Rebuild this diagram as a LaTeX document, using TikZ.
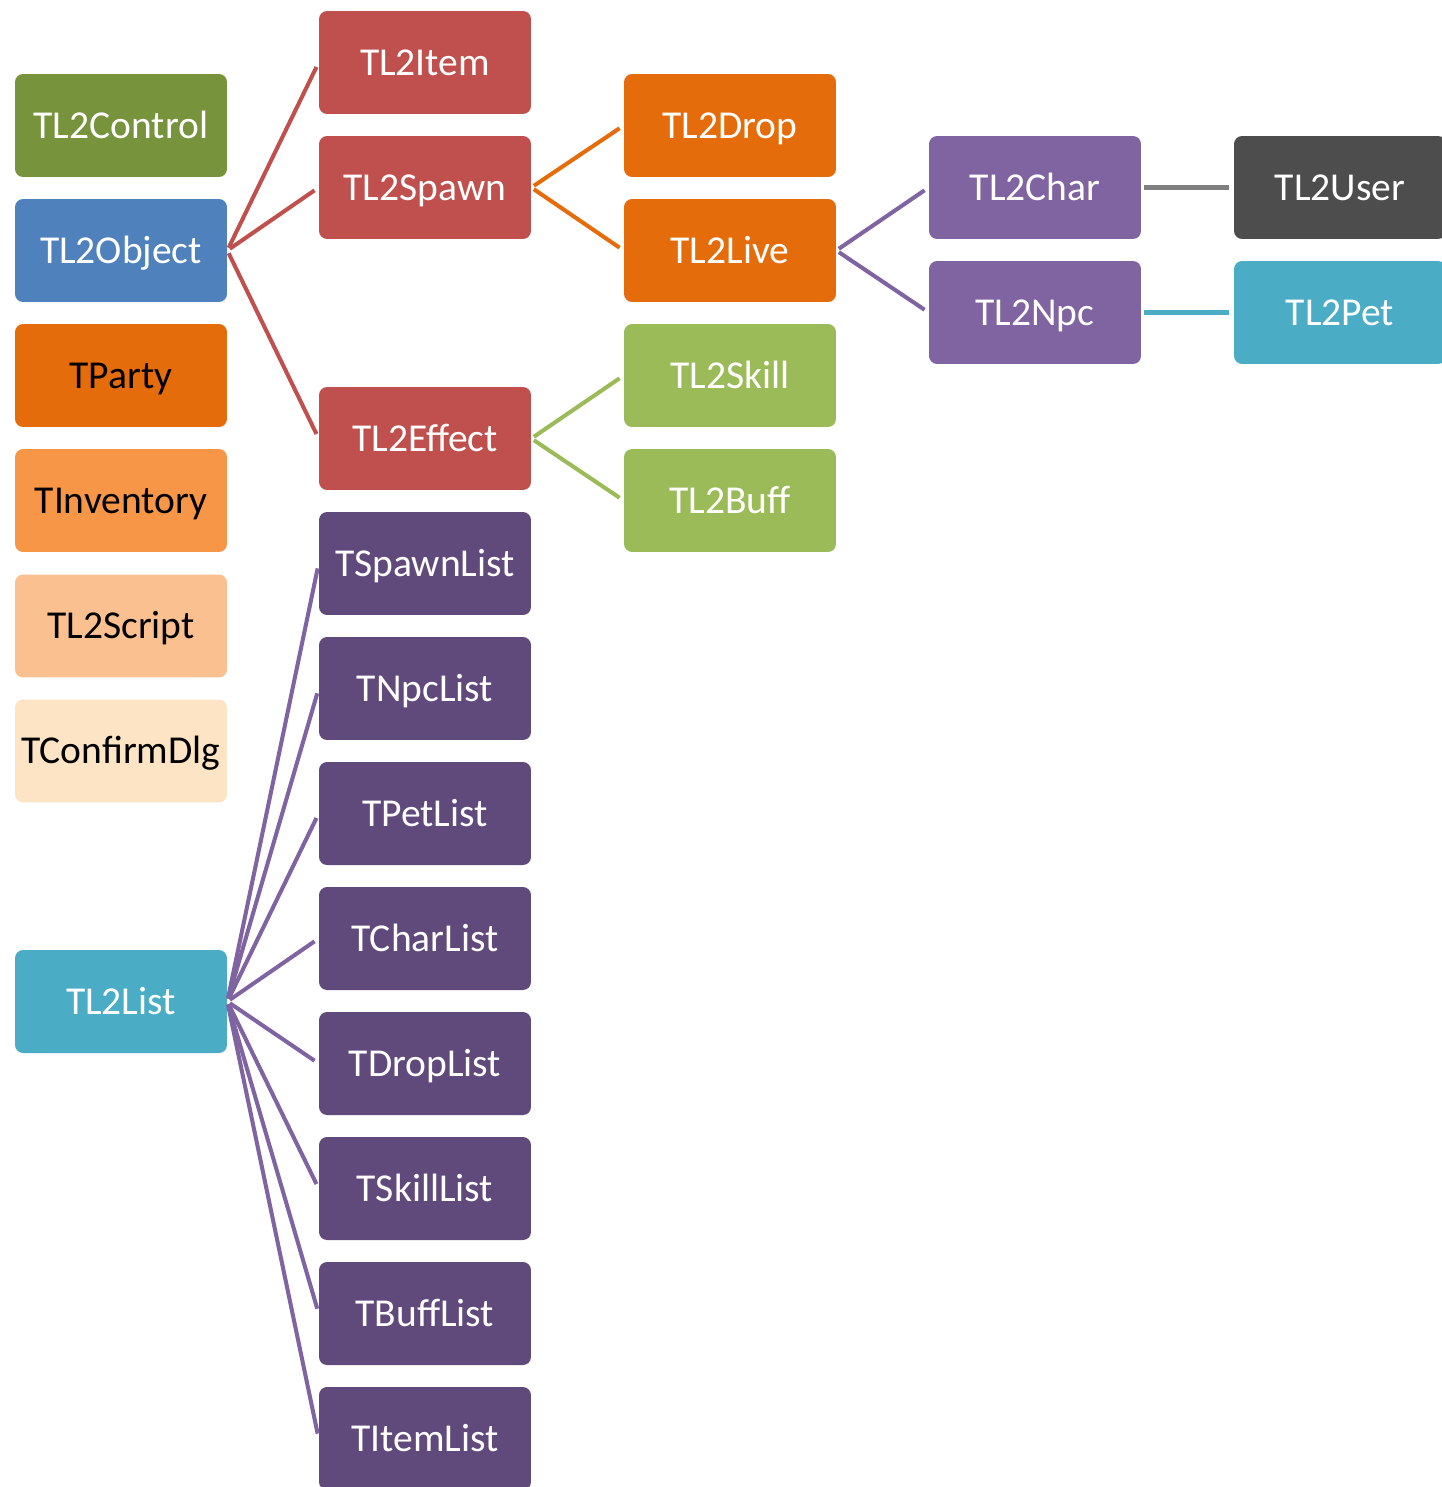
\documentclass[tikz,border=0pt]{standalone}
\usepackage{fontspec}
\setmainfont{Carlito}
\definecolor{ctrlgreen}{RGB}{119,147,60}
\definecolor{objblue}{RGB}{79,129,189}
\definecolor{darkorange}{RGB}{228,108,10}
\definecolor{lightorange}{RGB}{247,150,70}
\definecolor{peach}{RGB}{250,192,144}
\definecolor{cream}{RGB}{253,228,196}
\definecolor{tealblue}{RGB}{75,172,198}
\definecolor{brickred}{RGB}{192,80,77}
\definecolor{leafgreen}{RGB}{155,187,89}
\definecolor{midpurple}{RGB}{128,100,162}
\definecolor{deeppurple}{RGB}{96,74,123}
\definecolor{charcoal}{RGB}{77,77,77}
\usetikzlibrary{positioning}

\begin{document}
\begin{tikzpicture}[x=0.02cm, y=-0.02cm,
  cls/.style={rounded corners=0.16cm, minimum width=4.24cm, minimum height=2.06cm,
              inner sep=0pt, text height=14.5pt, text depth=0pt, text=white,
              font=\fontsize{22.5}{27}\selectfont},
  link/.style={line width=2.3pt, shorten <=0.06cm, shorten >=0.1cm}]
  \useasboundingbox (0,0) rectangle (1442,1487);
  % Left column
  \node[cls, fill=ctrlgreen] (ctrl) at (121,125.5) {TL2Control};
  \node[cls, fill=objblue] (obj) at (121,250.5) {TL2Object};
  \node[cls, fill=darkorange, text=black] (party) at (121,375.5) {TParty};
  \node[cls, fill=lightorange, text=black] (inv) at (121,500.5) {TInventory};
  \node[cls, fill=peach, text=black] (script) at (121,626) {TL2Script};
  \node[cls, fill=cream, text=black] (dlg) at (121,751) {TConfirmDlg};
  \node[cls, fill=tealblue] (lst) at (121,1001.5) {TL2List};
  % Object tree
  \node[cls, fill=brickred] (item) at (425,62.5) {TL2Item};
  \node[cls, fill=brickred] (spawn) at (425,187.5) {TL2Spawn};
  \node[cls, fill=brickred] (effect) at (425,438.5) {TL2Effect};
  \node[cls, fill=darkorange] (drop) at (730,125.5) {TL2Drop};
  \node[cls, fill=darkorange] (live) at (730,250.5) {TL2Live};
  \node[cls, fill=leafgreen] (skill) at (730,375.5) {TL2Skill};
  \node[cls, fill=leafgreen] (buff) at (730,500.5) {TL2Buff};
  \node[cls, fill=midpurple] (char) at (1035,187.5) {TL2Char};
  \node[cls, fill=midpurple] (npc) at (1035,312.5) {TL2Npc};
  \node[cls, fill=charcoal] (user) at (1340,187.5) {TL2User};
  \node[cls, fill=tealblue] (pet) at (1340,312.5) {TL2Pet};
  \foreach \c in {item, spawn, effect}
    \draw[link, brickred] (obj.east) -- (\c.west);
  \foreach \c in {drop, live}
    \draw[link, darkorange] (spawn.east) -- (\c.west);
  \foreach \c in {skill, buff}
    \draw[link, leafgreen] (effect.east) -- (\c.west);
  \foreach \c in {char, npc}
    \draw[link, midpurple] (live.east) -- (\c.west);
  \draw[link, gray, line width=2.8pt] (char) -- (user);
  \draw[link, tealblue, line width=2.8pt] (npc) -- (pet);
  % List classes
  \foreach \n/\lbl/\ypos in {spawnl/TSpawnList/563.5, npcl/TNpcList/688.5,
      petl/TPetList/813.5, charl/TCharList/938.5, dropl/TDropList/1063.5,
      skilll/TSkillList/1188.5, buffl/TBuffList/1313.5, iteml/TItemList/1438.5} {
    \node[cls, fill=deeppurple] (\n) at (425,\ypos) {\lbl};
    \draw[link, midpurple] (lst.east) -- (\n.west);
  }
\end{tikzpicture}
\end{document}
